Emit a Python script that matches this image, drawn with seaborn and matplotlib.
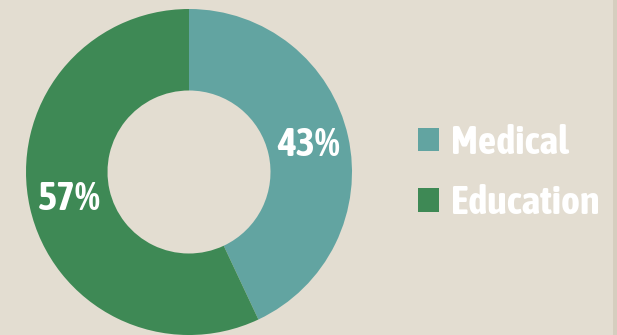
import matplotlib
matplotlib.use("Agg")
import matplotlib.pyplot as plt
from matplotlib.patches import Patch, Rectangle
import seaborn as sns

categories = ["Medical", "Education"]
values = [43, 57]
colors = ["#62a4a1", "#3e8955"]

sns.set_theme(style="white")
plt.rcParams['font.family'] = ['Asap Condensed', 'Liberation Sans', 'DejaVu Sans']

BG = "#e3ddd1"
W, H = 617, 335
fig = plt.figure(figsize=(W / 100, H / 100), dpi=100, facecolor=BG)

# right edge stripe
fig.patches.append(Rectangle((613 / W, 0), 4 / W, 1, transform=fig.transFigure,
                             facecolor="#d5cebf", edgecolor="none", zorder=0))

cx, cy, r = 189, 172, 163
ax = fig.add_axes([(cx - r) / W, (H - cy - r) / H, 2 * r / W, 2 * r / H])
ax.set_facecolor(BG)
wedges, texts, autotexts = ax.pie(
    values, colors=sns.color_palette(colors), startangle=90, counterclock=False,
    wedgeprops=dict(width=0.5, edgecolor="none", linewidth=0),
    autopct=lambda p: f"{p:.0f}%", pctdistance=0.75,
    textprops=dict(color="white", fontsize=29, fontweight=700))
ax.set_xlim(-1, 1)
ax.set_ylim(-1, 1)
ax.set_aspect("equal")
ax.axis("off")
for w in wedges:
    w.set_clip_on(False)

handles = [Patch(facecolor=c, edgecolor="none") for c in colors]
leg = fig.legend(handles, categories, loc="center left",
                 bbox_to_anchor=(418 / W, 1 - 173 / H), frameon=False,
                 prop=dict(family=['Asap Condensed', 'DejaVu Sans'], size=29, weight=700),
                 handlelength=0.52, handleheight=0.52, handletextpad=0.3,
                 labelspacing=0.55, borderaxespad=0, borderpad=0)
for t in leg.get_texts():
    t.set_color("white")

fig.savefig("out.png", dpi=100, facecolor=BG)
